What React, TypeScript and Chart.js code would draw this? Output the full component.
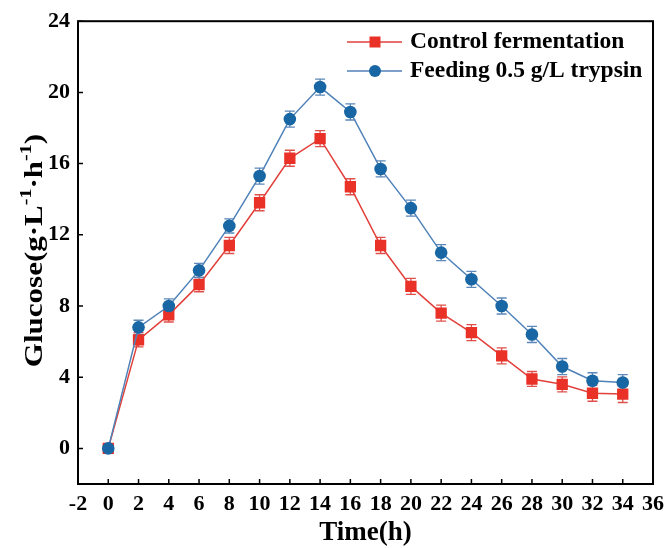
import React, { useEffect, useRef } from "react";
import { Chart, registerables } from "chart.js";

Chart.register(...registerables);

const times = [0, 2, 4, 6, 8, 10, 12, 14, 16, 18, 20, 22, 24, 26, 28, 30, 32, 34];
const controlValues = [0, 6.1, 7.5, 9.2, 11.4, 13.8, 16.3, 17.4, 14.7, 11.4, 9.1, 7.6, 6.5, 5.2, 3.9, 3.6, 3.1, 3.05];
const controlErrors = [0, 0.4, 0.4, 0.4, 0.45, 0.45, 0.45, 0.45, 0.45, 0.45, 0.45, 0.45, 0.45, 0.45, 0.42, 0.42, 0.45, 0.47];
const feedingValues = [0, 6.8, 8.0, 10.0, 12.5, 15.3, 18.5, 20.3, 18.9, 15.7, 13.5, 11.0, 9.5, 8.0, 6.4, 4.6, 3.8, 3.7];
const feedingErrors = [0, 0.4, 0.4, 0.4, 0.4, 0.45, 0.45, 0.45, 0.45, 0.45, 0.45, 0.45, 0.45, 0.45, 0.45, 0.45, 0.45, 0.45];
const xTickValues = [-2, 0, 2, 4, 6, 8, 10, 12, 14, 16, 18, 20, 22, 24, 26, 28, 30, 32, 34, 36];
const yTickValues = [0, 4, 8, 12, 16, 20, 24];
const seriesLabels = ["Control fermentation", "Feeding 0.5 g/L trypsin"];
const xTitle = "Time(h)";

const FONT = "'Liberation Serif', 'Times New Roman', serif";
const RED_LINE = "#e2403b";
const RED_MARK = "#ea3127";
const BLUE_LINE = "#4f82b8";
const BLUE_MARK = "#1866a3";

const decorPlugin = {
  id: "decor",
  beforeDatasetsDraw(chart: any) {
    const ctx = chart.ctx;
    const xs = chart.scales.x;
    const ys = chart.scales.y;
    const sets = [
      { v: controlValues, e: controlErrors, c: "#e0504a" },
      { v: feedingValues, e: feedingErrors, c: "#5b88b8" },
    ];
    ctx.save();
    ctx.lineWidth = 1.3;
    sets.forEach((s) => {
      ctx.strokeStyle = s.c;
      times.forEach((t, i) => {
        if (!s.e[i]) return;
        const x = xs.getPixelForValue(t);
        const y1 = ys.getPixelForValue(s.v[i] + s.e[i]);
        const y2 = ys.getPixelForValue(s.v[i] - s.e[i]);
        ctx.beginPath();
        ctx.moveTo(x, y1);
        ctx.lineTo(x, y2);
        ctx.moveTo(x - 5, y1);
        ctx.lineTo(x + 5, y1);
        ctx.moveTo(x - 5, y2);
        ctx.lineTo(x + 5, y2);
        ctx.stroke();
      });
    });
    ctx.restore();
  },
  afterDraw(chart: any) {
    const ctx = chart.ctx;
    const a = chart.chartArea;
    const xs = chart.scales.x;
    const ys = chart.scales.y;
    ctx.save();
    // frame
    ctx.strokeStyle = "#000";
    ctx.lineWidth = 2;
    ctx.strokeRect(a.left, a.top, a.right - a.left, a.bottom - a.top);
    // inner ticks
    ctx.lineWidth = 1.5;
    ctx.beginPath();
    xTickValues.forEach((v) => {
      const x = xs.getPixelForValue(v);
      ctx.moveTo(x, a.bottom);
      ctx.lineTo(x, a.bottom - 5);
    });
    yTickValues.forEach((v) => {
      const y = ys.getPixelForValue(v);
      ctx.moveTo(a.left, y);
      ctx.lineTo(a.left + 5, y);
    });
    ctx.stroke();

    // x title
    ctx.fillStyle = "#000";
    ctx.font = `bold 27px ${FONT}`;
    ctx.textAlign = "center";
    ctx.textBaseline = "middle";
    ctx.fillText(xTitle, (a.left + a.right) / 2, 533);

    // y title with superscripts
    const f = 31;
    const fs = 20;
    const segs: [string, boolean][] = [
      ["Glucose(g\u00B7L", false],
      ["-1", true],
      ["\u00B7h", false],
      ["-1", true],
      [")", false],
    ];
    let total = 0;
    const widths = segs.map(([t, sup]) => {
      ctx.font = `bold ${sup ? fs : f}px ${FONT}`;
      const w = ctx.measureText(t).width;
      total += w;
      return w;
    });
    ctx.translate(42, (a.top + a.bottom) / 2 - 2);
    ctx.rotate(-Math.PI / 2);
    ctx.scale(1, 0.84);
    ctx.textAlign = "left";
    ctx.textBaseline = "alphabetic";
    let cx = -total / 2;
    segs.forEach(([t, sup], i) => {
      ctx.font = `bold ${sup ? fs : f}px ${FONT}`;
      ctx.fillText(t, cx, sup ? -13 : 0);
      cx += widths[i];
    });
    ctx.setTransform(1, 0, 0, 1, 0, 0);

    // legend
    const rows = [
      { y: 42, line: RED_LINE, mark: RED_MARK, shape: "rect" },
      { y: 71, line: BLUE_LINE, mark: BLUE_MARK, shape: "circle" },
    ];
    rows.forEach((r, i) => {
      ctx.strokeStyle = r.line;
      ctx.lineWidth = 1.5;
      ctx.beginPath();
      ctx.moveTo(347, r.y);
      ctx.lineTo(402, r.y);
      ctx.stroke();
      ctx.fillStyle = r.mark;
      if (r.shape === "rect") {
        ctx.fillRect(375 - 5.5, r.y - 5.5, 11, 11);
      } else {
        ctx.beginPath();
        ctx.arc(375, r.y, 6, 0, Math.PI * 2);
        ctx.fill();
      }
      ctx.fillStyle = "#000";
      ctx.font = `bold 23.5px ${FONT}`;
      ctx.textAlign = "left";
      ctx.textBaseline = "middle";
      ctx.fillText(seriesLabels[i], 410, r.y);
    });
    ctx.restore();
  },
};

export default function App() {
  const ref = useRef<HTMLCanvasElement | null>(null);
  useEffect(() => {
    if (!ref.current) return;
    const chart = new Chart(ref.current, {
      type: "line",
      data: {
        datasets: [
          {
            label: seriesLabels[0],
            data: times.map((t, i) => ({ x: t, y: controlValues[i] })),
            borderColor: RED_LINE,
            backgroundColor: RED_MARK,
            pointBackgroundColor: RED_MARK,
            pointBorderColor: RED_MARK,
            pointStyle: "rect",
            pointRadius: 8,
            pointBorderWidth: 0,
            borderWidth: 1.5,
            order: 2,
          },
          {
            label: seriesLabels[1],
            data: times.map((t, i) => ({ x: t, y: feedingValues[i] })),
            borderColor: BLUE_LINE,
            backgroundColor: BLUE_MARK,
            pointBackgroundColor: BLUE_MARK,
            pointBorderColor: BLUE_MARK,
            pointStyle: "circle",
            pointRadius: 6.3,
            pointBorderWidth: 0,
            borderWidth: 1.5,
            order: 1,
          },
        ],
      },
      options: {
        animation: false,
        responsive: false,
        maintainAspectRatio: false,
        layout: { padding: { left: 0, top: 19, right: 15, bottom: 0 } },
        plugins: { legend: { display: false }, tooltip: { enabled: false } },
        scales: {
          x: {
            type: "linear",
            min: -2,
            max: 36,
            afterBuildTicks: (s: any) => {
              s.ticks = xTickValues.map((v) => ({ value: v }));
            },
            afterFit: (s: any) => {
              s.height = 64;
            },
            grid: { display: false, drawTicks: false },
            border: { display: false },
            ticks: {
              color: "#000",
              font: { family: FONT, size: 22, weight: "bold" },
              padding: 7,
              maxRotation: 0,
              autoSkip: false,
            },
          },
          y: {
            type: "linear",
            min: -2,
            max: 24,
            afterBuildTicks: (s: any) => {
              s.ticks = yTickValues.map((v) => ({ value: v }));
            },
            afterFit: (s: any) => {
              s.width = 78;
            },
            grid: { display: false, drawTicks: false },
            border: { display: false },
            ticks: {
              color: "#000",
              font: { family: FONT, size: 22, weight: "bold" },
              padding: 8,
              autoSkip: false,
            },
          },
        },
      },
      plugins: [decorPlugin],
    } as any);
    return () => chart.destroy();
  }, []);
  return (
    <div style={{ position: "fixed", left: 0, top: 0, width: 671, height: 548, background: "#fff" }}>
      <canvas ref={ref} width={671} height={548} style={{ display: "block" }} />
    </div>
  );
}
